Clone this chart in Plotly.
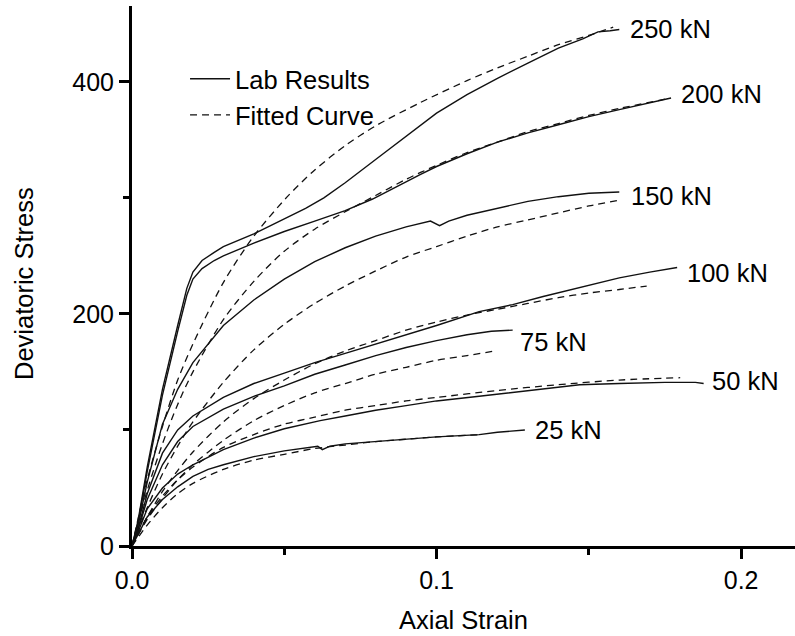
import plotly.graph_objects as go

# ---------------- data ----------------
loads = ["250 kN", "200 kN", "150 kN", "100 kN", "75 kN", "50 kN", "25 kN"]

lab_250_x = [0, 0.002, 0.005, 0.01, 0.015, 0.018, 0.02, 0.023, 0.027, 0.03, 0.04, 0.05, 0.057, 0.063, 0.07, 0.08, 0.09, 0.0946, 0.1, 0.11, 0.12, 0.13, 0.14, 0.148, 0.153, 0.157, 0.16]
lab_250_y = [0, 22, 68, 135, 190, 222, 236, 246, 253, 258, 269, 282, 291, 300, 313, 333, 353, 363, 373, 389, 403, 416, 429, 437, 443, 444, 445]
fit_250_x = [0, 0.005, 0.01, 0.015, 0.02, 0.03, 0.04, 0.051, 0.06, 0.07, 0.08, 0.0946, 0.11, 0.12, 0.13, 0.14, 0.15, 0.158]
fit_250_y = [0, 57, 103, 143, 174, 227, 267, 301, 324, 345, 362, 382, 401, 412, 422, 432, 440, 447]

lab_200_x = [0, 0.002, 0.005, 0.01, 0.015, 0.018, 0.02, 0.023, 0.027, 0.03, 0.04, 0.05, 0.06, 0.07, 0.079, 0.087, 0.0946, 0.1, 0.11, 0.12, 0.13, 0.14, 0.15, 0.16, 0.17, 0.177]
lab_200_y = [0, 20, 64, 130, 185, 216, 230, 239, 246, 250, 261, 271, 280, 289, 299, 310, 320, 327, 338, 348, 356, 363, 370, 376, 382, 386]
fit_200_x = [0, 0.005, 0.01, 0.015, 0.02, 0.03, 0.04, 0.05, 0.06, 0.07, 0.08, 0.09, 0.1, 0.11, 0.12, 0.13, 0.14, 0.15, 0.16, 0.175]
fit_200_y = [0, 48, 88, 122, 150, 195, 228, 254, 273, 288, 302, 316, 328, 339, 348, 357, 364, 371, 377, 385]

lab_150_x = [0, 0.002, 0.005, 0.01, 0.015, 0.02, 0.03, 0.04, 0.05, 0.06, 0.07, 0.08, 0.09, 0.098, 0.101, 0.104, 0.11, 0.12, 0.13, 0.14, 0.15, 0.16]
lab_150_y = [0, 18, 55, 105, 135, 158, 190, 212, 230, 245, 257, 267, 275, 280, 276, 280, 285, 291, 297, 301, 304, 305]
fit_150_x = [0, 0.005, 0.01, 0.015, 0.02, 0.03, 0.04, 0.05, 0.06, 0.07, 0.08, 0.09, 0.1, 0.11, 0.12, 0.13, 0.14, 0.15, 0.16]
fit_150_y = [0, 33, 62, 86, 107, 141, 169, 191, 209, 224, 237, 249, 258, 267, 275, 281, 287, 293, 298]

lab_100_x = [0, 0.002, 0.005, 0.01, 0.015, 0.02, 0.03, 0.04, 0.05, 0.06, 0.07, 0.08, 0.09, 0.1, 0.114, 0.125, 0.135, 0.147, 0.16, 0.17, 0.176, 0.179]
lab_100_y = [0, 15, 45, 80, 100, 112, 128, 140, 149, 158, 166, 174, 182, 190, 202, 208, 215, 223, 231, 236, 239, 240]
fit_100_x = [0, 0.005, 0.01, 0.015, 0.02, 0.03, 0.04, 0.05, 0.06, 0.07, 0.08, 0.09, 0.1, 0.11, 0.12, 0.13, 0.14, 0.15, 0.16, 0.169]
fit_100_y = [0, 25, 47, 65, 81, 107, 127, 143, 157, 168, 177, 186, 193, 199, 204, 209, 214, 218, 221, 224]

lab_75_x = [0, 0.002, 0.005, 0.01, 0.015, 0.02, 0.03, 0.04, 0.05, 0.06, 0.07, 0.08, 0.09, 0.1, 0.11, 0.118, 0.125]
lab_75_y = [0, 14, 40, 70, 90, 103, 118, 129, 138, 148, 156, 164, 171, 177, 182, 185, 186]
fit_75_x = [0, 0.005, 0.01, 0.015, 0.02, 0.03, 0.04, 0.05, 0.06, 0.07, 0.08, 0.09, 0.1, 0.11, 0.119]
fit_75_y = [0, 23, 41, 57, 70, 91, 108, 121, 132, 140, 148, 154, 160, 164, 168]

lab_50_x = [0, 0.002, 0.005, 0.01, 0.015, 0.02, 0.03, 0.04, 0.05, 0.0618, 0.07, 0.08, 0.09, 0.1, 0.114, 0.13, 0.147, 0.16, 0.175, 0.185, 0.1877]
lab_50_y = [0, 12, 32, 50, 62, 70, 83, 93, 101, 108, 112, 117, 121, 125, 129, 134, 139, 140, 141, 141, 140]
fit_50_x = [0, 0.005, 0.01, 0.015, 0.02, 0.03, 0.04, 0.05, 0.06, 0.07, 0.08, 0.09, 0.1, 0.12, 0.14, 0.16, 0.18]
fit_50_y = [0, 25, 43, 57, 68, 85, 96, 105, 111, 117, 121, 125, 128, 134, 139, 143, 145]

lab_25_x = [0, 0.002, 0.005, 0.01, 0.015, 0.02, 0.025, 0.03, 0.04, 0.05, 0.058, 0.061, 0.0625, 0.065, 0.07, 0.08, 0.09, 0.1, 0.114, 0.12, 0.129]
lab_25_y = [0, 10, 25, 40, 51, 60, 66, 70, 77, 82, 85, 86, 83, 86, 88, 90, 92, 94, 96, 98, 100]
fit_25_x = [0, 0.005, 0.01, 0.015, 0.02, 0.03, 0.04, 0.05, 0.06, 0.07, 0.08, 0.09, 0.1, 0.115]
fit_25_y = [0, 18, 33, 45, 54, 66, 74, 79, 84, 87, 90, 92, 94, 96]

lab_series = [(lab_250_x, lab_250_y), (lab_200_x, lab_200_y), (lab_150_x, lab_150_y),
              (lab_100_x, lab_100_y), (lab_75_x, lab_75_y), (lab_50_x, lab_50_y), (lab_25_x, lab_25_y)]
fit_series = [(fit_250_x, fit_250_y), (fit_200_x, fit_200_y), (fit_150_x, fit_150_y),
              (fit_100_x, fit_100_y), (fit_75_x, fit_75_y), (fit_50_x, fit_50_y), (fit_25_x, fit_25_y)]

# label offsets (pixels) relative to the end of each lab curve
label_dx = [9, 8, 10, 8, 5, 6, 8]
label_dy = [1, 4, -4, -6, -12, 3, 0]

FONT = "Liberation Sans, Arial, Helvetica, sans-serif"

fig = go.Figure()
for i, (x, y) in enumerate(lab_series):
    fig.add_trace(go.Scatter(x=x, y=y, mode="lines", name="Lab Results",
                             line=dict(color="#111111", width=1.4),
                             showlegend=(i == 0), legendrank=1))
for i, (x, y) in enumerate(fit_series):
    fig.add_trace(go.Scatter(x=x, y=y, mode="lines", name="Fitted Curve",
                             line=dict(color="#111111", width=1.3, dash="7px,5px", shape="spline", smoothing=0.8),
                             showlegend=(i == 0), legendrank=2))

annotations = []
for i, (x, y) in enumerate(lab_series):
    annotations.append(dict(x=x[-1], y=y[-1], xref="x", yref="y", text=loads[i],
                            showarrow=False, xanchor="left", yanchor="middle",
                            xshift=label_dx[i], yshift=label_dy[i],
                            font=dict(family=FONT, size=25.5, color="black")))
# axis titles
annotations.append(dict(x=0.5, y=0, xref="paper", yref="paper", text="Axial Strain",
                        showarrow=False, xanchor="center", yanchor="middle", yshift=-74,
                        font=dict(family=FONT, size=25.5, color="black")))
annotations.append(dict(x=0, y=0.5, xref="paper", yref="paper", text="Deviatoric Stress",
                        showarrow=False, xanchor="center", yanchor="middle", textangle=-90,
                        xshift=-108, yshift=-8,
                        font=dict(family=FONT, size=25.5, color="black")))

fig.update_layout(
    width=795, height=636,
    margin=dict(l=132, r=0, t=6, b=90),
    paper_bgcolor="white", plot_bgcolor="white",
    font=dict(family=FONT, size=25, color="black"),
    showlegend=True,
    legend=dict(x=0.080, y=0.908, xanchor="left", yanchor="top",
                bgcolor="rgba(0,0,0,0)", font=dict(family=FONT, size=25.5, color="black"),
                tracegroupgap=0, itemwidth=40),
    annotations=annotations,
)
fig.update_xaxes(range=[0, 0.2177], showline=True, linewidth=3, linecolor="black",
                 ticks="outside", ticklen=10, tickwidth=3, tickcolor="black",
                 tick0=0, dtick=0.1, tickformat=".1f", showgrid=False, zeroline=False,
                 tickfont=dict(family=FONT, size=25, color="black"),
                 minor=dict(ticks="outside", dtick=0.05, ticklen=6, tickwidth=3, tickcolor="black", showgrid=False))
fig.update_yaxes(range=[0, 465.3], showline=True, linewidth=3, linecolor="black",
                 ticks="outside", ticklen=10, tickwidth=3, tickcolor="black",
                 tick0=0, dtick=200, showgrid=False, zeroline=False,
                 tickfont=dict(family=FONT, size=25, color="black"),
                 minor=dict(ticks="outside", dtick=100, ticklen=6, tickwidth=3, tickcolor="black", showgrid=False))

fig.write_html("out.html")
